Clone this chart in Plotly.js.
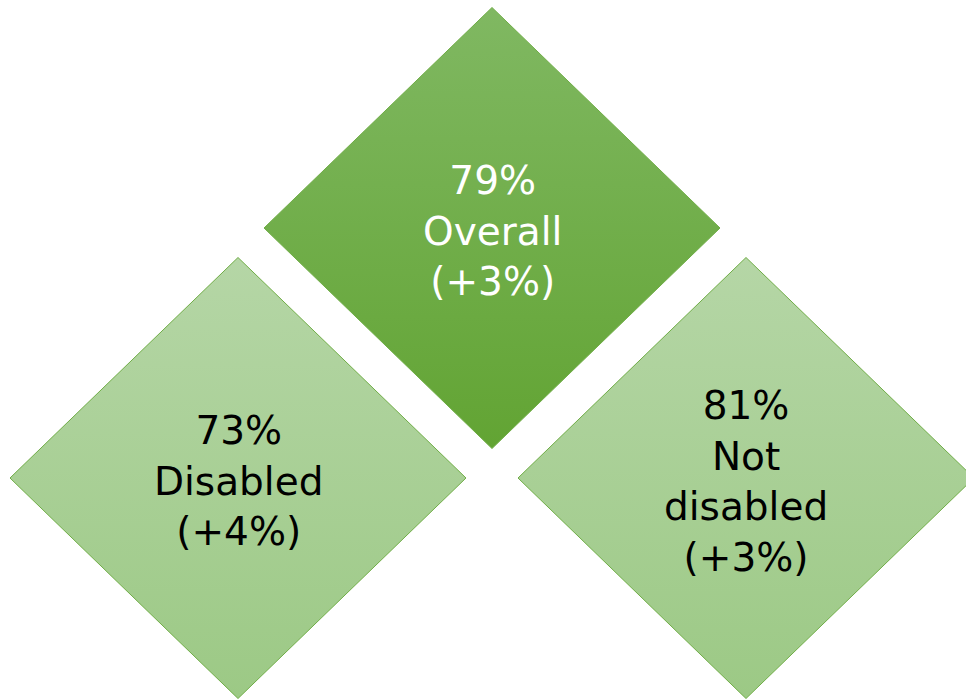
<!DOCTYPE html>
<html>
<head>
<meta charset="utf-8">
<script src="https://cdn.plot.ly/plotly-3.0.1.min.js"></script>
<style>html,body{margin:0;padding:0;background:#fff;}#chart{width:966px;height:699px;}</style>
</head>
<body>
<div id="chart"></div>
<script>
// ---- data ----
const categories = ["Overall", "Disabled", "Not disabled"];
const rates = [79, 73, 81];
const changes = [3, 4, 3];

// ---- layout (pixel-like axis units) ----
const centerX = [492, 238, 746];
const centerY = [228, 478, 478];
const halfW = 228;
const halfH = 220.5;
// [top colour, bottom colour]
const fillColors = [["#80b862", "#62a433"], ["#b5d6a6", "#9cc985"], ["#b5d6a6", "#9cc985"]];
const textColors = ["#ffffff", "#000000", "#000000"];

const traces = [];
const annotations = [];
categories.forEach((cat, i) => {
  const cx = centerX[i], cy = centerY[i];
  traces.push({
    type: "scatter",
    mode: "lines",
    x: [cx, cx + halfW, cx, cx - halfW, cx],
    y: [cy - halfH, cy, cy + halfH, cy, cy - halfH],
    fill: "toself",
    fillgradient: {type: "vertical", colorscale: [[0, fillColors[i][1]], [1, fillColors[i][0]]]},
    line: {color: "#70ad47", width: 1},
    hoverinfo: "skip",
    showlegend: false
  });
  const label = cat.length > 10 ? cat.replace(" ", "<br>") : cat;
  annotations.push({
    x: cx, y: cy + 3, xref: "x", yref: "y",
    text: rates[i] + "%<br>" + label + "<br>(+" + changes[i] + "%)",
    showarrow: false,
    align: "center",
    font: {family: "DejaVu Sans, sans-serif", size: 39, color: textColors[i]}
  });
});

const layout = {
  width: 966, height: 699,
  margin: {l: 0, r: 0, t: 0, b: 0},
  paper_bgcolor: "#ffffff", plot_bgcolor: "#ffffff",
  xaxis: {range: [0, 966], visible: false, fixedrange: true},
  yaxis: {range: [699, 0], visible: false, fixedrange: true},
  annotations: annotations,
  showlegend: false
};
Plotly.newPlot("chart", traces, layout, {staticPlot: true, displayModeBar: false});
</script>
</body>
</html>
